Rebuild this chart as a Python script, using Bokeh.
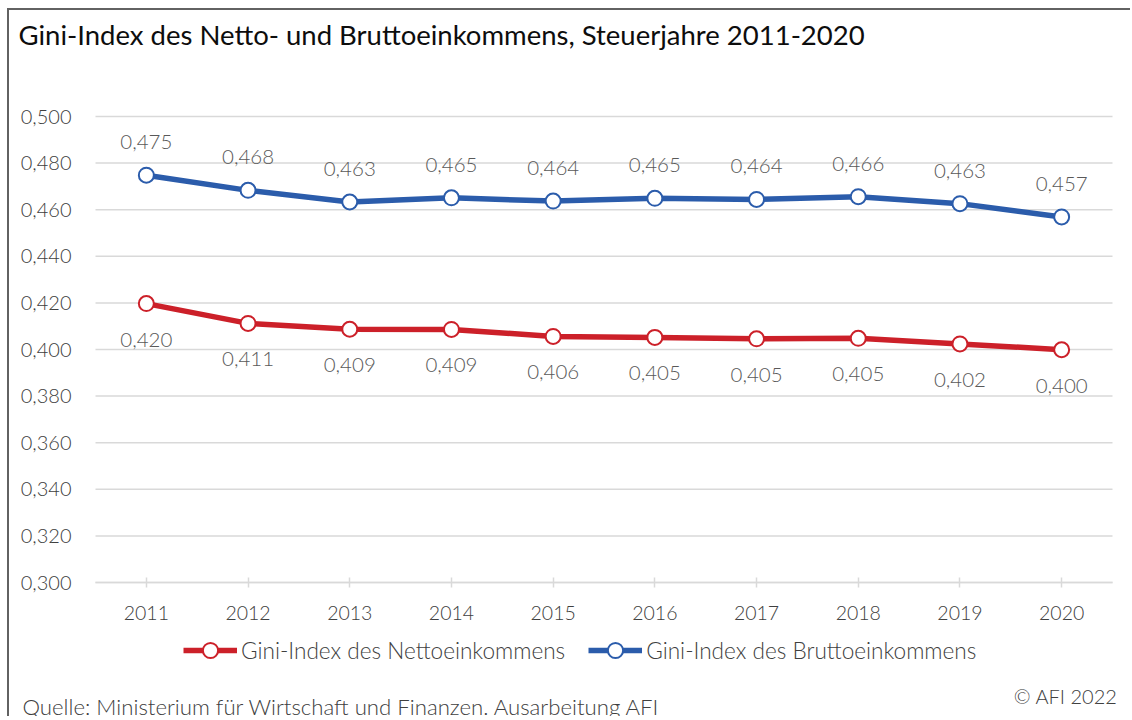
from bokeh.plotting import figure
from bokeh.models import (Range1d, ColumnDataSource, LabelSet, Label, Legend, LegendItem,
                          CustomJSTickFormatter, FixedTicker)
from bokeh.embed import file_html
from bokeh.resources import INLINE
from bokeh.core.properties import value

years = [2011, 2012, 2013, 2014, 2015, 2016, 2017, 2018, 2019, 2020]
netto = [0.4197, 0.4112, 0.4087, 0.4086, 0.4056, 0.4052, 0.4046, 0.4048, 0.4024, 0.3999]
brutto = [0.4748, 0.4683, 0.4633, 0.4651, 0.4637, 0.4649, 0.4644, 0.4656, 0.4626, 0.4569]
y_ticks = [0.30, 0.32, 0.34, 0.36, 0.38, 0.40, 0.42, 0.44, 0.46, 0.48, 0.50]

title_text = "Gini-Index des Netto- und Bruttoeinkommens, Steuerjahre 2011-2020"
source_text = "Quelle: Ministerium für Wirtschaft und Finanzen.  Ausarbeitung AFI"
copyright_text = "© AFI 2022"
netto_name = "Gini-Index des Nettoeinkommens"
brutto_name = "Gini-Index des Bruttoeinkommens"

FONT = "Lato"
LIGHT = "Lato Light, Lato"
RED = "#cc2029"
BLUE = "#2b5cab"
TXT = "#404040"
LBL = "#595959"
GRID = "#d9d9d9"

# canvas geometry (pixels): plot area left/right/top/bottom inside the canvas
W, H = 1123, 708
PX_L, PX_R, PX_T, PX_B = 86, 1103, 106, 572

def fmt(v):
    return ("%.3f" % v).replace(".", ",")

x_lo, x_hi = years[0] - 0.5, years[-1] + 0.5
y_lo, y_hi = y_ticks[0], y_ticks[-1]
xs = (PX_R - PX_L) / (x_hi - x_lo)
ys = (PX_B - PX_T) / (y_hi - y_lo)
x_range = Range1d(x_lo - PX_L / xs, x_hi + (W - PX_R) / xs)
y_range = Range1d(y_lo - (H - PX_B) / ys, y_hi + PX_T / ys)

src = ColumnDataSource(dict(
    x=years, netto=netto, brutto=brutto,
    nlab=[fmt(v) for v in netto], blab=[fmt(v) for v in brutto]))

p = figure(width=W, height=H, x_range=x_range, y_range=y_range,
           output_backend="svg", toolbar_location=None,
           min_border_left=0, min_border_right=0, min_border_top=0, min_border_bottom=0,
           styles={"border-left": "2px solid #626262", "border-top": "2px solid #626262",
                   "margin-left": "7px", "margin-top": "8px"})
p.outline_line_color = None
p.background_fill_color = "white"
p.border_fill_color = "white"
p.xgrid.grid_line_color = None
p.ygrid.grid_line_color = None

# horizontal grid lines over the plot area
p.segment(x0=[x_lo] * len(y_ticks), x1=[x_hi] * len(y_ticks), y0=y_ticks, y1=y_ticks,
          line_color=GRID, line_width=1.5)

# y axis
yax = p.yaxis[0]
yax.fixed_location = x_lo
yax.bounds = (y_lo, y_hi)
yax.ticker = FixedTicker(ticks=y_ticks)
yax.formatter = CustomJSTickFormatter(code="return tick.toFixed(3).replace('.', ',');")
yax.axis_line_color = None
yax.major_tick_line_color = None
yax.minor_tick_line_color = None
yax.major_label_standoff = 18
yax.major_label_text_font = LIGHT
yax.major_label_text_font_size = "20px"
yax.major_label_text_color = TXT

# x axis
xax = p.xaxis[0]
xax.fixed_location = y_lo
xax.bounds = (x_lo, x_hi)
xax.ticker = FixedTicker(ticks=years)
xax.formatter = CustomJSTickFormatter(code="return String(tick);")
xax.axis_line_color = GRID
xax.axis_line_width = 1.5
xax.major_tick_line_color = GRID
xax.major_tick_line_width = 1.5
xax.minor_tick_line_color = None
xax.major_tick_in = 5
xax.major_tick_out = 5
xax.major_label_standoff = 18
xax.major_label_text_font = LIGHT
xax.major_label_text_font_size = "19.5px"
xax.major_label_text_color = TXT

# lines
ln_n = p.line("x", "netto", source=src, line_color=RED, line_width=5.5)
sc_n = p.scatter("x", "netto", source=src, size=15, fill_color="white", line_color=RED, line_width=2)
ln_b = p.line("x", "brutto", source=src, line_color=BLUE, line_width=5.5)
sc_b = p.scatter("x", "brutto", source=src, size=15, fill_color="white", line_color=BLUE, line_width=2)

# data labels
p.add_layout(LabelSet(x="x", y="brutto", text="blab", source=src, y_offset=33,
                      text_align="center", text_baseline="middle",
                      text_font=value(LIGHT), text_font_size="20.5px", text_color=LBL))
p.add_layout(LabelSet(x="x", y="netto", text="nlab", source=src, y_offset=-36,
                      text_align="center", text_baseline="middle",
                      text_font=value(LIGHT), text_font_size="20.5px", text_color=LBL))

# legend
legend = Legend(items=[LegendItem(label=netto_name, renderers=[ln_n, sc_n]),
                       LegendItem(label=brutto_name, renderers=[ln_b, sc_b])],
                orientation="horizontal", location=(174, 49),
                glyph_width=54, glyph_height=38, label_standoff=4, spacing=23,
                padding=0, margin=0, border_line_color=None, background_fill_alpha=0,
                label_text_font=LIGHT, label_text_font_size="22.6px", label_text_color=TXT)
p.add_layout(legend, "center")

# title and footer
p.add_layout(Label(x=9, y=H - 24, x_units="screen", y_units="screen", text=title_text,
                   text_baseline="middle", text_font=FONT, text_font_size="27.5px",
                   text_color="#0d0d0d"))
p.add_layout(Label(x=13, y=H - 696, x_units="screen", y_units="screen", text=source_text,
                   text_baseline="middle", text_font=LIGHT, text_font_size="22.2px",
                   text_color=TXT))
p.add_layout(Label(x=1108, y=H - 685, x_units="screen", y_units="screen", text=copyright_text,
                   text_align="right", text_baseline="middle", text_font=LIGHT,
                   text_font_size="20px", text_color=TXT))

open("out.html", "w").write(file_html(p, INLINE))
